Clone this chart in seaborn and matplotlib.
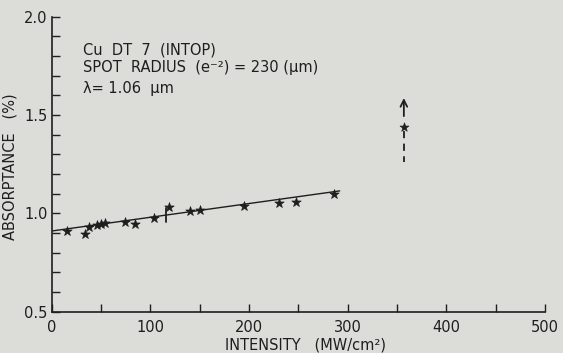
import pandas as pd
import matplotlib.pyplot as plt
import seaborn as sns
from matplotlib.ticker import MultipleLocator

# Datos
intensity = [16, 34, 38, 46, 50, 54, 74, 85, 104, 119, 140, 150, 195, 230, 248, 286]
absorptance = [0.912, 0.895, 0.931, 0.942, 0.946, 0.951, 0.955, 0.946, 0.978,
               1.034, 1.013, 1.017, 1.037, 1.051, 1.059, 1.098]

# Recta ajustada (extremos)
fit_x = [0, 292]
fit_y = [0.910, 1.114]

# Barra de error del punto a 119
bar_x = [116, 116]
bar_y = [0.955, 1.025]

# Punto fuera de escala con flecha
outlier_x = [357]
outlier_y = [1.44]
arrow_y = [1.48, 1.60]
dash_y = [1.42, 1.26]

notes = ["Cu  DT  7  (INTOP)",
         "SPOT  RADIUS  (e⁻²) = 230 (μm)",
         "λ= 1.06  μm"]
notes_y = [1.83, 1.739, 1.632]

bg = "#dcdcd8"
ink = "#1e1e1e"

sns.set_theme(style="ticks")
plt.rcParams["font.family"] = ["DejaVu Sans"]
plt.rcParams["text.color"] = ink
plt.rcParams["axes.labelcolor"] = ink
plt.rcParams["xtick.color"] = ink
plt.rcParams["ytick.color"] = ink

df = pd.DataFrame({"intensity": intensity, "absorptance": absorptance})

fig, ax = plt.subplots(figsize=(5.63, 3.53), dpi=100)
fig.subplots_adjust(left=0.0915, right=0.968, bottom=0.117, top=0.953)
fig.patch.set_facecolor(bg)
ax.set_facecolor(bg)

sns.lineplot(x=fit_x, y=fit_y, ax=ax, color=ink, lw=1)
sns.scatterplot(data=df, x="intensity", y="absorptance", marker="*", s=50,
                color=ink, edgecolor=ink, linewidth=0.5, ax=ax, zorder=3)
ax.plot(bar_x, bar_y, color=ink, lw=1.3)

sns.scatterplot(x=outlier_x, y=outlier_y, marker="*", s=45, color=ink,
                edgecolor=ink, linewidth=0.5, ax=ax, zorder=3)
ax.annotate("", xy=(outlier_x[0], arrow_y[1]), xytext=(outlier_x[0], arrow_y[0]),
            arrowprops=dict(arrowstyle="->", color=ink, lw=1.3, mutation_scale=12))
ax.plot([outlier_x[0], outlier_x[0]], dash_y, color=ink, lw=1.3, ls=(0, (4, 3)))

for txt, yy in zip(notes, notes_y):
    ax.text(32, yy, txt, fontsize=10.5, va="center", ha="left", color=ink)

ax.set_xlim(0, 500)
ax.set_ylim(0.5, 2.0)
ax.xaxis.set_major_locator(MultipleLocator(100))
ax.xaxis.set_minor_locator(MultipleLocator(50))
ax.yaxis.set_major_locator(MultipleLocator(0.5))
ax.yaxis.set_minor_locator(MultipleLocator(0.1))
ax.yaxis.set_major_formatter(plt.FormatStrFormatter("%.1f"))

sns.despine(ax=ax)
for s in ["left", "bottom"]:
    ax.spines[s].set_color(ink)
    ax.spines[s].set_linewidth(1.2)
ax.tick_params(which="both", direction="in", length=6, width=1)
ax.tick_params(axis="x", pad=6, labelsize=10.5)
ax.tick_params(axis="y", pad=3, labelsize=10.5)

ax.set_xlabel("INTENSITY   (MW/cm²)", fontsize=10.5)
ax.set_ylabel("ABSORPTANCE   (%)", fontsize=10.5)
ax.xaxis.set_label_coords(0.515, -0.088)
ax.yaxis.set_label_coords(-0.068, 0.49)

plt.savefig("out.png", dpi=100, facecolor=bg)
